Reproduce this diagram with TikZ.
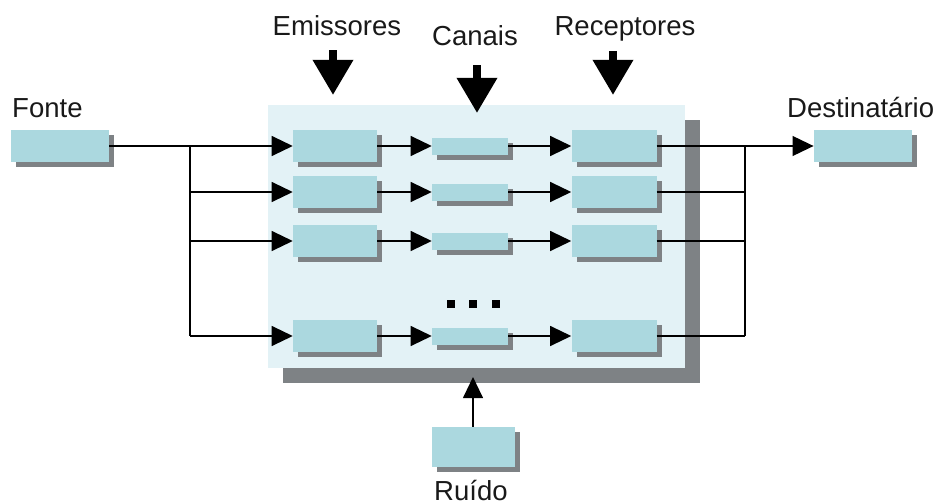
\documentclass[tikz,border=0pt]{standalone}
\usepackage{fontspec}
\setmainfont{Liberation Sans}
\usetikzlibrary{arrows.meta,positioning,shadows}
\definecolor{boxcyan}{RGB}{171,216,223}
\definecolor{panelblue}{RGB}{227,242,246}
\definecolor{shadegrey}{RGB}{126,130,133}
\definecolor{inkgrey}{RGB}{25,25,25}

\tikzset{
  cell/.style={fill=boxcyan, inner sep=0pt, minimum height=0.96cm,
    general shadow={fill=shadegrey, shadow xshift=4.3pt, shadow yshift=-4.3pt}},
  endbox/.style={cell, minimum width=2.95cm},
  emitbox/.style={cell, minimum width=2.52cm},
  chanbox/.style={cell, minimum width=2.28cm, minimum height=0.51cm},
  recvbox/.style={cell, minimum width=2.55cm},
  panel/.style={fill=panelblue, inner sep=0pt, minimum width=12.51cm, minimum height=7.89cm,
    general shadow={fill=shadegrey, shadow xshift=12.7pt, shadow yshift=-12.7pt}},
  txt/.style={font=\fontsize{23.5}{28}\selectfont, text=inkgrey, inner sep=0pt},
  dotmark/.style={fill=black, inner sep=0pt, minimum size=6pt},
  flow/.style={-{Triangle[length=18pt,width=17pt]}, line width=1.3pt},
  bigarrow/.style={-{Triangle[length=30pt,width=33pt]}, line width=6.8pt},
  wire/.style={line width=1.3pt},
}

\begin{document}
\begin{tikzpicture}[x=0.03cm, y=-0.03cm]
\useasboundingbox (0,0) rectangle (940,504);

% Channel panel
\node[panel] (panel) at (476.5,236.5) {};

% Source, sink and noise
\node[endbox] (fonte) at (60,146) {};
\node[endbox] (dest) at (863,146) {};
\node[cell, minimum width=2.49cm, minimum height=1.2cm] (ruido) at (473,447) {};

\node[txt, anchor=base west] (lblFonte) at (12,117) {Fonte};
\node[txt, anchor=base west] (lblDest) at (787,117) {Destinatário};
\node[txt, anchor=base west] (lblRuido) at (434,500) {Ruído};

% Column titles
\node[txt, anchor=base] (lblEm) at (337,35) {Emissores};
\node[txt, anchor=base] (lblCh) at (475,45) {Canais};
\node[txt, anchor=base] (lblRe) at (625,35) {Receptores};

\coordinate (tipEm) at (333,95);
\coordinate (tipCh) at (477,113);
\coordinate (tipRe) at (613,95);
\draw[bigarrow, shorten <=12.7pt] (lblEm.south -| tipEm) -- (tipEm);
\draw[bigarrow, shorten <=17pt] (lblCh.south -| tipCh) -- (tipCh);
\draw[bigarrow, shorten <=8.5pt] (lblRe.south -| tipRe) -- (tipRe);

% Split and join buses
\coordinate (splitTop) at (190,146);
\coordinate (splitBot) at (190,336);
\coordinate (joinTop) at (745,146);
\coordinate (joinBot) at (745,336);
\draw[wire] (fonte.east) -- (splitTop) -- (splitBot);
\draw[wire] (joinTop) -- (joinBot);
\draw[flow] (joinTop) -- (dest.west);

% Parallel branches
\foreach \r/\y in {1/146,2/192,3/241,4/336}{
  \node[emitbox] (em\r) at (335,\y) {};
  \node[chanbox] (ch\r) at (470,\y) {};
  \node[recvbox] (re\r) at (614,\y) {};
  \draw[flow] (splitTop |- em\r.west) -- (em\r.west);
  \draw[flow] (em\r.east) -- (ch\r.west);
  \draw[flow] (ch\r.east) -- (re\r.west);
  \draw[wire] (re\r.east) -- (joinTop |- re\r.east);
}

% Dots
\foreach \x [count=\i] in {451,473,496}
  \node[dotmark] (dot\i) at (\x,304) {};

% Noise into channels
\coordinate (noiseTip) at (473,377);
\draw[flow] (ruido.north) -- (noiseTip);

\end{tikzpicture}
\end{document}
